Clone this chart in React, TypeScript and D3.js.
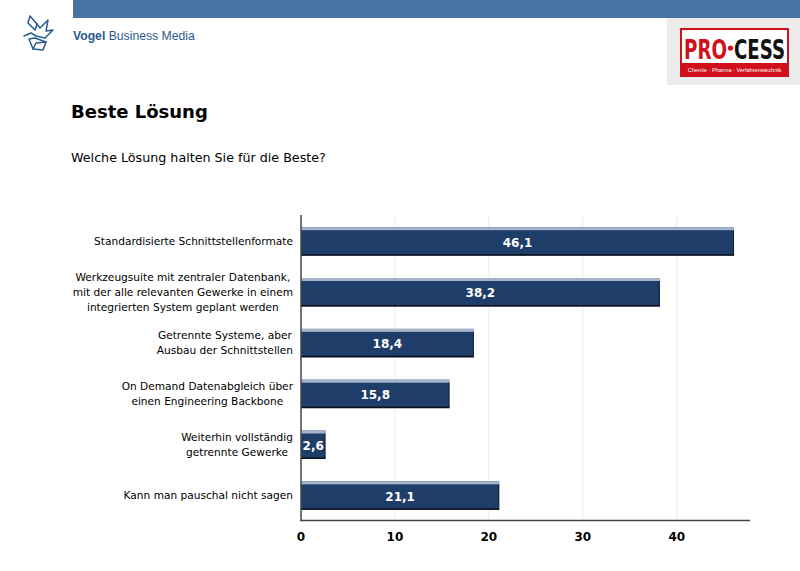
import React, { useEffect, useRef } from "react";
import * as d3 from "d3";

const categories: string[][] = [
  ["Standardisierte Schnittstellenformate"],
  ["Werkzeugsuite mit zentraler Datenbank,", "mit der alle relevanten Gewerke in einem", "integrierten System geplant werden"],
  ["Getrennte Systeme, aber", "Ausbau der Schnittstellen"],
  ["On Demand Datenabgleich über", "einen Engineering Backbone"],
  ["Weiterhin vollständig", "getrennte Gewerke"],
  ["Kann man pauschal nicht sagen"],
];
const values: number[] = [46.1, 38.2, 18.4, 15.8, 2.6, 21.1];
const ticks: number[] = [0, 10, 20, 30, 40];
const title = "Beste Lösung";
const subtitle = "Welche Lösung halten Sie für die Beste?";

const W = 800;
const H = 571;
const labelFont = "'DejaVu Sans', Verdana, sans-serif";

export default function App() {
  const ref = useRef<SVGSVGElement | null>(null);

  useEffect(() => {
    const svg = d3.select(ref.current);
    svg.selectAll("*").remove();

    // Header
    svg.append("rect").attr("x", 73).attr("y", 0).attr("width", W - 73).attr("height", 18).attr("fill", "#4673a3");

    // Bird logo
    const bird = svg.append("g").attr("fill", "none").attr("stroke", "#2b5a8f").attr("stroke-width", 1.5).attr("stroke-linejoin", "round").attr("stroke-linecap", "round");
    bird.append("path").attr("d", "M30,16 L28,23 L35,30 L37,24 L30,16");
    bird.append("path").attr("d", "M37,24 L40,28 L48,20 L46,31 L53,30 L45,38");
    bird.append("path").attr("d", "M24,36 L31,33 L36,36 L45,38");
    bird.append("path").attr("d", "M29,39 L35,38 L46,42 L43,50 L33,49 Z");
    bird.append("path").attr("d", "M33,49 L36,43 L46,42");

    const vogel = svg.append("text").attr("x", 73).attr("y", 40).attr("font-family", "'Liberation Sans', Arial, sans-serif").attr("font-size", 12.2).attr("fill", "#2b5a8f");
    vogel.append("tspan").attr("font-weight", "bold").text("Vogel");
    vogel.append("tspan").text(" Business Media");

    // PROCESS logo
    svg.append("rect").attr("x", 667).attr("y", 18).attr("width", W - 667).attr("height", 67).attr("fill", "#ececec");
    svg.append("rect").attr("x", 681).attr("y", 29).attr("width", 107).attr("height", 47).attr("fill", "#fff").attr("stroke", "#d0111b").attr("stroke-width", 2);
    svg.append("rect").attr("x", 682).attr("y", 63).attr("width", 105).attr("height", 12).attr("fill", "#d0111b");
    const logoFont = "'DejaVu Sans Condensed', 'Liberation Sans Narrow', 'Liberation Sans', sans-serif";
    svg.append("text").attr("x", 684).attr("y", 59).attr("font-family", logoFont).attr("font-weight", "bold").attr("font-size", 26).attr("fill", "#d0111b").attr("textLength", 43).attr("lengthAdjust", "spacingAndGlyphs").text("PRO");
    svg.append("circle").attr("cx", 730.5).attr("cy", 48).attr("r", 2.6).attr("fill", "#d0111b");
    svg.append("text").attr("x", 734).attr("y", 59).attr("font-family", logoFont).attr("font-weight", "bold").attr("font-size", 26).attr("fill", "#111").attr("textLength", 51).attr("lengthAdjust", "spacingAndGlyphs").text("CESS");
    svg.append("text").attr("x", 734.5).attr("y", 71.5).attr("text-anchor", "middle").attr("font-family", "'Liberation Sans', Arial, sans-serif").attr("font-size", 5.6).attr("fill", "#fff").text("Chemie · Pharma · Verfahrenstechnik");

    // Titles
    svg.append("text").attr("x", 71).attr("y", 118).attr("font-family", labelFont).attr("font-weight", "bold").attr("font-size", 18).attr("fill", "#000").text(title);
    svg.append("text").attr("x", 71).attr("y", 162).attr("font-family", labelFont).attr("font-size", 12.7).attr("fill", "#000").text(subtitle);

    // Scales
    const x = d3.scaleLinear().domain([0, 47.8]).range([301, 750]);
    const y = d3
      .scaleBand<number>()
      .domain(d3.range(values.length))
      .range([216, 521])
      .paddingInner(0.44)
      .paddingOuter(0.22);

    // Gridlines
    svg
      .append("g")
      .selectAll("line")
      .data(ticks.slice(1))
      .join("line")
      .attr("x1", (d) => x(d))
      .attr("x2", (d) => x(d))
      .attr("y1", 216)
      .attr("y2", 520)
      .attr("stroke", "#ebebeb")
      .attr("stroke-width", 1);

    // Bars
    const bars = svg.append("g");
    values.forEach((v, i) => {
      const y0 = y(i)!;
      const bh = y.bandwidth();
      const x0 = x(0);
      const bw = x(v) - x0;
      bars.append("rect").attr("x", x0).attr("y", y0).attr("width", bw).attr("height", bh).attr("fill", "#1f3d69");
      bars.append("rect").attr("x", x0).attr("y", y0).attr("width", bw).attr("height", 3).attr("fill", "#a7b4cb");
      bars.append("rect").attr("x", x0).attr("y", y0 + bh - 1.5).attr("width", bw).attr("height", 1.5).attr("fill", "#0b0f18");
      bars.append("rect").attr("x", x0 + bw - 1).attr("y", y0 + 3).attr("width", 1).attr("height", bh - 3).attr("fill", "#16243a");
      bars
        .append("text")
        .attr("x", x0 + bw / 2)
        .attr("y", y0 + bh / 2 + 1)
        .attr("dy", "0.35em")
        .attr("text-anchor", "middle")
        .attr("font-family", labelFont)
        .attr("font-weight", "bold")
        .attr("font-size", 12)
        .attr("fill", "#fff")
        .text(String(v).replace(".", ","));
    });

    // Axes lines
    svg.append("line").attr("x1", 301).attr("x2", 301).attr("y1", 215).attr("y2", 521).attr("stroke", "#444").attr("stroke-width", 1.5);
    svg.append("line").attr("x1", 300).attr("x2", 750).attr("y1", 520.5).attr("y2", 520.5).attr("stroke", "#444").attr("stroke-width", 1.5);

    // Tick labels
    svg
      .append("g")
      .selectAll("text")
      .data(ticks)
      .join("text")
      .attr("x", (d) => x(d))
      .attr("y", 541)
      .attr("text-anchor", "middle")
      .attr("font-family", labelFont)
      .attr("font-weight", "bold")
      .attr("font-size", 12)
      .attr("fill", "#000")
      .text((d) => String(d));

    // Category labels: block right-aligned at 292, lines centered within block
    const lh = 15;
    categories.forEach((lines, i) => {
      const cy = y(i)! + y.bandwidth() / 2;
      const g = svg.append("g");
      const texts = lines.map((ln, j) =>
        g
          .append("text")
          .attr("y", cy + (j - (lines.length - 1) / 2) * lh)
          .attr("dy", "0.35em")
          .attr("text-anchor", "middle")
          .attr("font-family", labelFont)
          .attr("font-size", 10.6)
          .attr("fill", "#000")
          .text(ln)
      );
      const maxW = d3.max(texts, (t) => (t.node() as SVGTextElement).getComputedTextLength()) || 0;
      texts.forEach((t) => t.attr("x", 293 - maxW / 2));
    });
  }, []);

  return (
    <svg
      ref={ref}
      width={W}
      height={H}
      style={{ position: "absolute", left: 0, top: 0, background: "#fff" }}
    />
  );
}
